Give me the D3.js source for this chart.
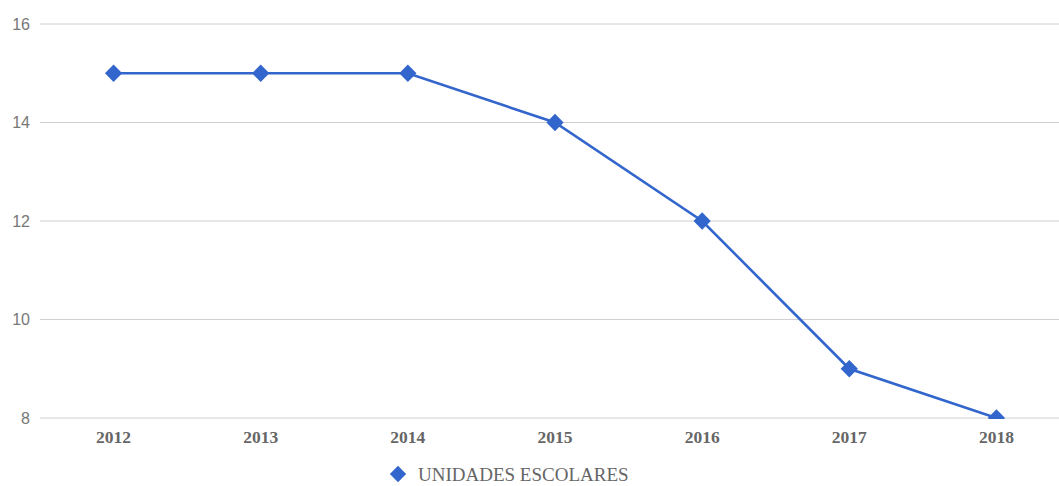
<!DOCTYPE html>
<html>
<head>
<meta charset="utf-8">
<script src="https://cdn.jsdelivr.net/npm/d3@7"></script>
<style>
  body { margin: 0; background: #fff; }
  svg { display: block; }
</style>
</head>
<body>
<div id="chart"></div>
<script>
// data
const years = ['2012', '2013', '2014', '2015', '2016', '2017', '2018'];
const unidades = [15, 15, 15, 14, 12, 9, 8];
const yTicks = [8, 10, 12, 14, 16];
const seriesName = 'UNIDADES ESCOLARES';

const width = 1059, height = 486;
const margin = { top: 24, right: -11, bottom: 68, left: 40 };

const svg = d3.select('#chart').append('svg')
    .attr('width', width)
    .attr('height', height);

const x = d3.scalePoint()
    .domain(years)
    .range([margin.left, width - margin.right])
    .padding(0.5);

const y = d3.scaleLinear()
    .domain([8, 16])
    .range([height - margin.bottom, margin.top]);

// gridlines
svg.append('g')
    .selectAll('line')
    .data(yTicks)
    .enter().append('line')
    .attr('x1', margin.left)
    .attr('x2', width)
    .attr('y1', d => y(d))
    .attr('y2', d => y(d))
    .style('stroke', '#d0d0d0')
    .style('stroke-width', 1);

// y labels
svg.append('g')
    .selectAll('text')
    .data(yTicks)
    .enter().append('text')
    .attr('x', 30)
    .attr('y', d => y(d))
    .attr('dy', '0.35em')
    .style('text-anchor', 'end')
    .style('font-family', '"Liberation Sans", Arial, sans-serif')
    .style('font-size', '16px')
    .style('fill', '#777')
    .text(d => d);

// x labels
svg.append('g')
    .selectAll('text')
    .data(years)
    .enter().append('text')
    .attr('x', d => x(d))
    .attr('y', y(8) + 25)
    .style('text-anchor', 'middle')
    .style('font-family', '"Liberation Serif", "Times New Roman", serif')
    .style('font-weight', 'bold')
    .style('font-size', '17.5px')
    .style('fill', '#666')
    .text(d => d);

// clip to plot area
svg.append('clipPath')
    .attr('id', 'plot-clip')
    .append('rect')
    .attr('x', margin.left)
    .attr('y', 0)
    .attr('width', width)
    .attr('height', y(8) + 1);

const plot = svg.append('g').attr('clip-path', 'url(#plot-clip)');

const line = d3.line()
    .x((d, i) => x(years[i]))
    .y(d => y(d));

plot.append('path')
    .datum(unidades)
    .attr('d', line)
    .style('fill', 'none')
    .style('stroke', '#3366cc')
    .style('stroke-width', 2.6);

const diamond = d3.symbol().type(d3.symbolDiamond2).size(190);

plot.selectAll('.marker')
    .data(unidades)
    .enter().append('path')
    .attr('class', 'marker')
    .attr('d', diamond)
    .attr('transform', (d, i) => `translate(${x(years[i])},${y(d)})`)
    .style('fill', '#3366cc');

// legend
const legend = svg.append('g')
    .attr('transform', 'translate(398,474)');

legend.append('path')
    .attr('d', d3.symbol().type(d3.symbolDiamond2).size(170))
    .style('fill', '#3366cc');

legend.append('text')
    .attr('x', 20)
    .attr('dy', '0.35em')
    .style('font-family', '"Liberation Serif", "Times New Roman", serif')
    .style('font-size', '19px')
    .style('fill', '#666')
    .text(seriesName);
</script>
</body>
</html>
